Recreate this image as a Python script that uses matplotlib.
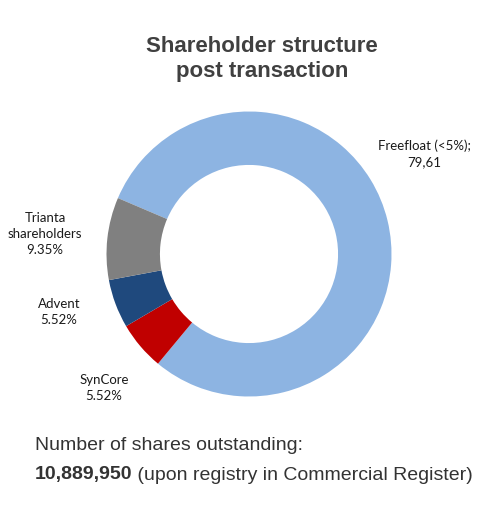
import matplotlib.pyplot as plt

W, H = 492, 517

# data
names = ['Freefloat', 'SynCore', 'Advent', 'Trianta']
shares = [79.61, 5.52, 5.52, 9.35]
colors = ['#8DB4E2', '#C00000', '#1F497D', '#808080']
label_texts = ['Freefloat (<5%);\n79,61', 'SynCore\n5.52%', 'Advent\n5.52%', 'Trianta\nshareholders\n9.35%']
# label centres in pixels (x, y from top)
label_pos = [(424, 154), (104, 388), (59, 312), (45, 234)]

fig = plt.figure(figsize=(W / 100, H / 100), dpi=100)
fig.patch.set_facecolor('white')

cx, cy, r = 249, 254, 142.5
ax = fig.add_axes([(cx - r) / W, (H - cy - r) / H, 2 * r / W, 2 * r / H])
ax.pie(shares, colors=colors, startangle=156.9, counterclock=False,
       wedgeprops=dict(width=0.375, edgecolor='none'))
ax.set_xlim(-1, 1)
ax.set_ylim(-1, 1)
ax.set_aspect('equal')
ax.axis('off')

for txt, (x, y) in zip(label_texts, label_pos):
    fig.text(x / W, 1 - y / H, txt, ha='center', va='center', fontsize=9.5,
             family='Lato', color='#1a1a1a', linespacing=1.45)

fig.text(262 / W, 1 - 59 / H, 'Shareholder structure\npost transaction', ha='center', va='center',
         fontsize=16, fontweight='bold', family='Liberation Sans', color='#404040', linespacing=1.25)

fig.text(35 / W, 1 - 445 / H, 'Number of shares outstanding:', ha='left', va='center',
         fontsize=14, family='Liberation Sans', color='#333333')
t = fig.text(35 / W, 1 - 475 / H, '10,889,950', ha='left', va='center',
             fontsize=14, fontweight='bold', family='Liberation Sans', color='#333333')
fig.canvas.draw()
bb = t.get_window_extent()
fig.text(bb.x1 / W, 1 - 475 / H, ' (upon registry in Commercial Register)', ha='left', va='center',
         fontsize=14, family='Liberation Sans', color='#333333')

fig.savefig('out.png', dpi=100)
